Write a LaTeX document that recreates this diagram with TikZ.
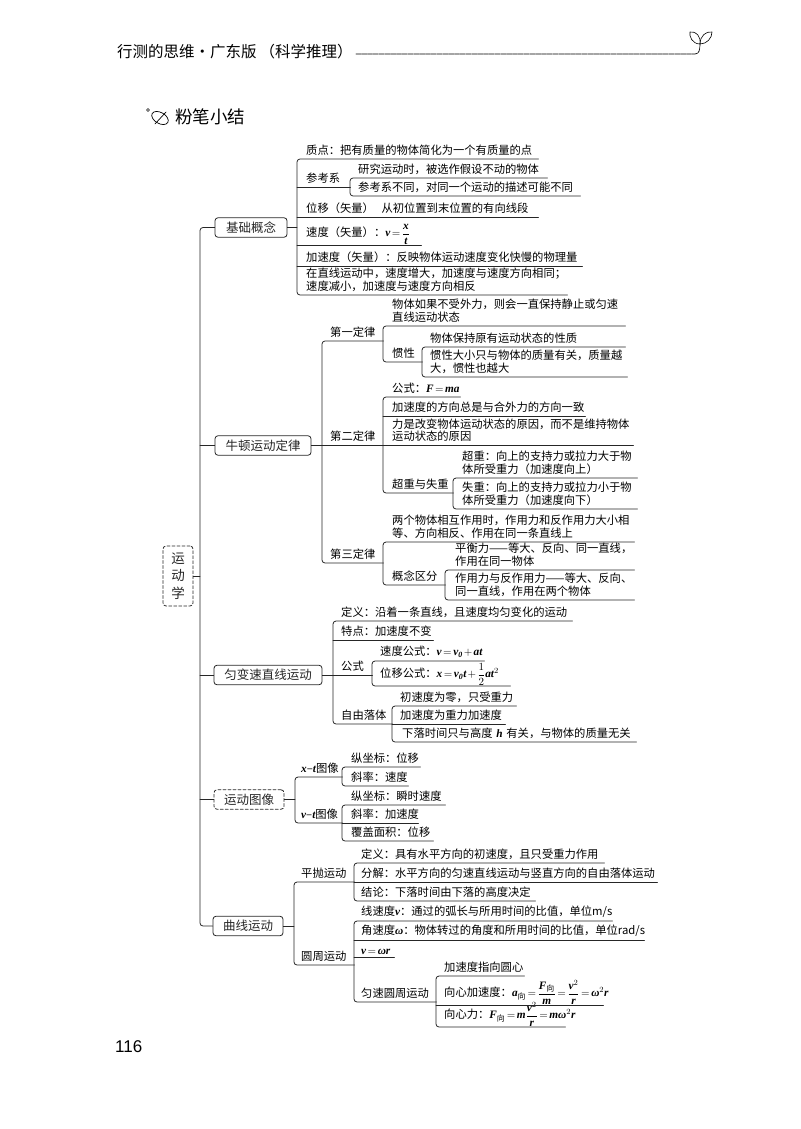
\documentclass[tikz,border=0pt]{standalone}
\usepackage{amsmath}
\usepackage{fontspec}
\setmainfont{Noto Sans CJK SC}
\newfontfamily\mathtxt{Liberation Serif}
\newfontfamily\numfont{Liberation Sans}
\newcommand{\vv}[1]{\text{\mathtxt\bfseries\itshape #1}}
\newcommand{\xiang}{\text{向}}
\thickmuskip=2.5mu
\medmuskip=2mu
\tikzset{
	ln/.style={line width=0.8pt, color=black!85},
	brk/.style={ln, rounded corners=3pt},
	leaf/.style={anchor=south west, inner xsep=0pt, inner ysep=3.5pt, align=left, font=\fontsize{11.3}{12.6}\selectfont},
	tall/.style={inner ysep=0.5pt},
	topbox/.style={ln, draw, rounded corners=3pt, inner sep=0pt, minimum height=19.5pt, font=\fontsize{12.5}{14}\selectfont}
}
\begin{document}
\begin{tikzpicture}[line cap=round, line join=round, x=1pt, y=-1pt]
	\useasboundingbox (0,0) rectangle (800,1129);
	% page head
	\node[anchor=west, inner sep=3pt, font=\fontsize{15.5}{17}\selectfont] (header) at (114,52) {行测的思维·广东版\hspace{3pt}（科学推理）};
	\coordinate (stem) at (695,54);
	\coordinate (sprout) at (700,44);
	\draw[line width=0.7pt, dash pattern=on 5pt off 0.8pt] (header.east |- stem) -- (stem) .. controls (699,54) and (700,50) .. (sprout);
	\draw[line width=0.6pt] (sprout) .. controls (692,44) and (689,36) .. (690,32) .. controls (696,31) and (701,36) .. (sprout);
	\draw[line width=0.6pt] (sprout) .. controls (707,44) and (712,38) .. (712,32) .. controls (706,31) and (700,36) .. (sprout);
	\node[anchor=west, inner sep=0pt, font=\fontsize{17.5}{19}\selectfont] (title) at (175,117) {粉笔小结};
	\draw[line width=0.5pt] (148,110) circle (1.4pt);
	\draw[line width=0.7pt, rotate around={-30:(160,118)}] (160,118) ellipse [x radius=9, y radius=5.5];
	\draw[line width=0.7pt] (155,124) -- (166,112);
	\node[anchor=west, inner sep=0pt, font=\numfont\fontsize{17}{19}\selectfont] (page) at (115,1047) {116};

	% boxes
	\node[topbox, densely dashed, minimum width=30pt, minimum height=60pt, align=center, font=\fontsize{13.5}{17.5}\selectfont] (root) at (178,576) {运\\动\\学};
	\node[topbox, minimum width=72pt] (jichu) at (251,227.5) {基础概念};
	\node[topbox, minimum width=96pt] (niudun) at (263,445.5) {牛顿运动定律};
	\node[topbox, minimum width=108pt] (yunbian) at (268,675) {匀变速直线运动};
	\node[topbox, densely dashed, minimum width=70pt] (tuxiang) at (249,799.5) {运动图像};
	\node[topbox, minimum width=70pt] (quxian) at (248,926) {曲线运动};

	% bars
	\foreach \b/\x in {trunk/200, jcbar/297, ckbar/350, nbar/322, lawbar/383, gxbar/422, czbar/453, gnbar/445, ybar/333, gsbar/372, zybar/392, tbar/295, xtbar/342, qxbar/294, ppbar/354, ysbar/436}
		\coordinate (\b) at (\x,0);

	% first group
	\node[leaf, text width=232pt] (zhidian) at (306,159) {质点：把有质量的物体简化为一个有质量的点};
	\node[leaf, text width=44pt] (cankao) at (306,187) {参考系};
	\node[leaf, text width=189pt] (yanjiu) at (358,178) {研究运动时，被选作假设不动的物体};
	\node[leaf, text width=222pt] (butong) at (358,196) {参考系不同，对同一个运动的描述可能不同};
	\node[leaf, text width=232pt] (weiyi) at (306,217) {位移（矢量）~~从初位置到末位置的有向线段};
	\node[leaf, tall, text width=115pt] (sudu) at (306,245) {速度（矢量）：\mbox{$\vv{v}=\dfrac{\vv{x}}{\vv{t}}$}};
	\node[leaf, text width=276pt] (jiasu) at (306,266) {加速度（矢量）：反映物体运动速度变化快慢的物理量};
	\node[leaf, text width=261pt] (tongfan) at (306,295) {在直线运动中，速度增大，加速度与速度方向相同；\\速度减小，加速度与速度方向相反};

	% second group
	\node[leaf, text width=53pt] (diyi) at (330,341) {第一定律};
	\node[leaf, text width=233pt] (waili) at (392,326) {物体如果不受外力，则会一直保持静止或匀速\\直线运动状态};
	\node[leaf, text width=30pt] (guanxing) at (392,362) {惯性};
	\node[leaf, text width=195pt] (xingzhi) at (430,347) {物体保持原有运动状态的性质};
	\node[leaf, text width=197pt] (daxiao) at (430,377) {惯性大小只与物体的质量有关，质量越\\大，惯性也越大};
	\node[leaf, text width=53pt] (dier) at (330,445.5) {第二定律};
	\node[leaf, text width=68pt] (gongshi) at (392,397) {公式：\mbox{$\vv{F}=\vv{ma}$}};
	\node[leaf, text width=193pt] (yizhi) at (392,416) {加速度的方向总是与合外力的方向一致};
	\node[leaf, text width=241pt] (yuanyin) at (392,445.5) {力是改变物体运动状态的原因，而不是维持物体\\运动状态的原因};
	\node[leaf, text width=61pt] (chaoshi) at (392,493) {超重与失重};
	\node[leaf, text width=175pt] (chao) at (462,478) {超重：向上的支持力或拉力大于物\\体所受重力（加速度向上）};
	\node[leaf, text width=175pt] (shi) at (462,509) {失重：向上的支持力或拉力小于物\\体所受重力（加速度向下）};
	\node[leaf, text width=53pt] (disan) at (330,563) {第三定律};
	\node[leaf, text width=242pt] (xianghu) at (392,542) {两个物体相互作用时，作用力和反作用力大小相\\等、方向相反、作用在同一条直线上};
	\node[leaf, text width=53pt] (gainian) at (392,585) {概念区分};
	\node[leaf, text width=179pt] (pingheng) at (455,570) {平衡力——等大、反向、同一直线，\\作用在同一物体};
	\node[leaf, text width=179pt] (zuoyong) at (455,600) {作用力与反作用力——等大、反向、\\同一直线，作用在两个物体};

	% third group
	\node[leaf, text width=231pt] (dingyi) at (341,621) {定义：沿着一条直线，且速度均匀变化的运动};
	\node[leaf, text width=92pt] (tedian) at (341,640) {特点：加速度不变};
	\node[leaf, text width=31pt] (gongshib) at (341,675) {公式};
	\node[leaf, text width=104pt] (sudug) at (380,661) {速度公式：\mbox{$\vv{v}=\vv{v}_{\vv{0}}+\vv{at}$}};
	\node[leaf, tall, text width=130pt] (weiyig) at (380,686) {位移公式：\mbox{$\vv{x}=\vv{v}_{\vv{0}}\vv{t}+\dfrac{1}{2}\vv{at}^{2}$}};
	\node[leaf, text width=51pt] (ziyou) at (341,724) {自由落体};
	\node[leaf, text width=116pt] (chusu) at (400,706) {初速度为零，只受重力};
	\node[leaf, text width=105pt] (zhongli) at (400,724) {加速度为重力加速度};
	\node[leaf, text width=234pt] (xialuo) at (402,742) {下落时间只与高度~\vv{h}~有关，与物体的质量无关};

	% fourth group
	\node[leaf, text width=41pt] (xt) at (301,777) {\mbox{\vv{x}--\vv{t}图像}};
	\node[leaf, text width=41pt] (vt) at (301,823) {\mbox{\vv{v}--\vv{t}图像}};
	\node[leaf, text width=69pt] (zonga) at (351,767) {纵坐标：位移};
	\node[leaf, text width=57pt] (xiea) at (351,786) {斜率：速度};
	\node[leaf, text width=94pt] (zongb) at (351,805) {纵坐标：瞬时速度};
	\node[leaf, text width=67pt] (xieb) at (351,823) {斜率：加速度};
	\node[leaf, text width=82pt] (fugai) at (351,841) {覆盖面积：位移};

	% fifth group
	\node[leaf, text width=53pt] (pingpao) at (301,882) {平抛运动};
	\node[leaf, text width=243pt] (ppdy) at (361,863) {定义：具有水平方向的初速度，且只受重力作用};
	\node[leaf, text width=296pt] (fenjie) at (361,882) {分解：水平方向的匀速直线运动与竖直方向的自由落体运动};
	\node[leaf, text width=174pt] (jielun) at (361,901) {结论：下落时间由下落的高度决定};
	\node[leaf, text width=53pt] (yuanzhou) at (301,965) {圆周运动};
	\node[leaf, text width=251pt] (xiansu) at (361,921) {线速度\vv{v}：通过的弧长与所用时间的比值，单位m/s};
	\node[leaf, text width=283pt] (jiaosu) at (361,940) {角速度\vv{ω}：物体转过的角度和所用时间的比值，单位rad/s};
	\node[leaf, inner ysep=2pt, text width=33pt] (vwr) at (361,957) {\mbox{$\vv{v}=\vv{ωr}$}};
	\node[leaf, text width=75pt] (yunsu) at (361,1002) {匀速圆周运动};
	\node[leaf, text width=80pt] (zhixiang) at (444,976) {加速度指向圆心};
	\node[leaf, tall, text width=159pt] (xinjia) at (444,1005) {向心加速度：\mbox{$\vv{a}_{\xiang}=\dfrac{\vv{F}_{\xiang}}{\vv{m}}=\dfrac{\vv{v}^{2}}{\vv{r}}=\vv{ω}^{2}\vv{r}$}};
	\node[leaf, tall, text width=121pt] (xinli) at (444,1027) {向心力：\mbox{$\vv{F}_{\xiang}=\vv{m}\dfrac{\vv{v}^{2}}{\vv{r}}=\vv{mω}^{2}\vv{r}$}};

	% boxes to bars
	\draw[ln] (root.east) -- (root.east -| trunk);
	\draw[brk] (jichu.west) -- (trunk |- jichu.west) -- (trunk |- quxian.west) -- (quxian.west);
	\foreach \n in {niudun, yunbian, tuxiang}
		\draw[ln] (trunk |- \n.west) -- (\n.west);
	\foreach \n/\b in {jichu/jcbar, niudun/nbar, yunbian/ybar, tuxiang/tbar, quxian/qxbar}
		\draw[ln] (\n.east) -- (\n.east -| \b);

	% brackets: top leaf to bottom leaf
	\foreach \b/\t/\e in {jcbar/zhidian/tongfan, ckbar/yanjiu/butong, nbar/diyi/disan, lawbar/waili/guanxing, gxbar/xingzhi/daxiao, lawbar/gongshi/chaoshi, czbar/chao/shi, lawbar/xianghu/gainian, gnbar/pingheng/zuoyong, ybar/dingyi/ziyou, gsbar/sudug/weiyig, zybar/chusu/xialuo, tbar/xt/vt, xtbar/zonga/xiea, xtbar/zongb/fugai, qxbar/pingpao/yuanzhou, ppbar/ppdy/jielun, ppbar/xiansu/yunsu, ysbar/zhixiang/xinli}
		\draw[brk] (\t.south east) -- (\b |- \t.south) -- (\b |- \e.south) -- (\e.south east);

	% leaves on a bar
	\foreach \b/\n in {jcbar/cankao, jcbar/weiyi, jcbar/sudu, jcbar/jiasu, nbar/dier, lawbar/yizhi, lawbar/yuanyin, ybar/tedian, ybar/gongshib, zybar/zhongli, xtbar/xieb, ppbar/fenjie, ppbar/jiaosu, ppbar/vwr, ysbar/xinjia}
		\draw[ln] (\b |- \n.south) -- (\n.south east);
\end{tikzpicture}
\end{document}
